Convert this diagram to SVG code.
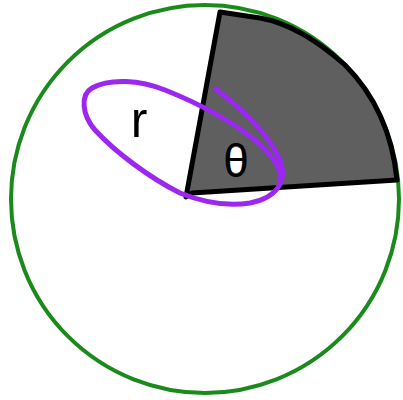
<svg xmlns="http://www.w3.org/2000/svg" width="403" height="400" viewBox="0 0 403 400">
<style>
.circ{fill:none;stroke:#1a8a1a;stroke-width:4}
.sector{fill:#5f5f5f;stroke:#000;stroke-width:5;stroke-linejoin:round}
.loop{fill:none;stroke:#9b27f0;stroke-width:5;stroke-linecap:round;stroke-linejoin:round}
.lbl{font-family:"Liberation Sans",Arial,sans-serif;fill:#000;text-anchor:middle}
</style>
<rect width="403" height="400" fill="#fff"/>
<g id="circle"><circle class="circ" cx="205" cy="199" r="194"/></g>
<g id="sector"><path class="sector" d="M220,12 L186,197 L192,193 L397,180 Q390,110 345,65 Q300,25 260,18 Z"/></g>
<g id="connectors">
<path class="loop" d="M216,89 C240,108 268,132 280,160 C288,182 276,198 250,203 C225,207 200,201 180,193 C150,178 115,152 95,130 C82,115 80,95 92,88 C110,78 140,80 165,90 C195,102 230,120 255,140 C272,155 282,168 280,180"/>
</g>
<g id="label-r"><text class="lbl" x="139" y="137" font-size="50">r</text></g>
<g id="label-theta"><ellipse cx="236" cy="160" rx="9" ry="13" fill="#fff"/><text class="lbl" x="236" y="177" font-size="46">θ</text></g>
</svg>
